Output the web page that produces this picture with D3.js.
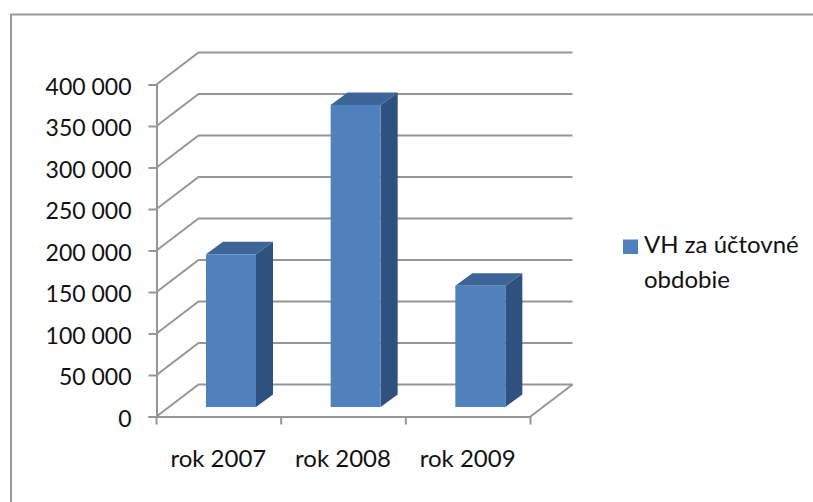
<!DOCTYPE html>
<html><head><meta charset="utf-8">
<script src="https://cdnjs.cloudflare.com/ajax/libs/d3/7.8.5/d3.min.js"></script>
<style>html,body{margin:0;padding:0;background:#fff}svg{display:block}text{font-family:Lato,sans-serif;fill:#111}</style>
</head><body><svg id="c" width="813" height="502"></svg>
<script>
const categories = ["rok 2007","rok 2008","rok 2009"];
const values = [184000,364000,146000];
const tickValues = [0,50000,100000,150000,200000,250000,300000,350000,400000];
const seriesName = ["VH za účtovné","obdobie"];

const svg = d3.select("#c");
const grid = "#969696";
const x = d3.scaleBand().domain(categories).range([156.5,530.5]);
const y = d3.scaleLinear().domain([0,400000]).range([416.5,84.5]);
const depth = {x:42, y:-32};

// chart frame (left and top edges only are visible)
svg.append("path").attr("d","M11,502V14.5H813").attr("fill","none").attr("stroke","#9a9a9a").attr("stroke-width",2);

// gridlines: side wall + back wall
const g = svg.append("g").attr("fill","none").attr("stroke",grid).attr("stroke-width",2);
g.selectAll("path.grid").data(tickValues).join("path").attr("class","grid")
 .attr("d",v=>`M${x.range()[0]},${y(v)}L${x.range()[0]+depth.x},${y(v)+depth.y}H${x.range()[1]+depth.x}`);
// floor edge
g.append("path").attr("d",`M${x.range()[1]},${y(0)}L${x.range()[1]+depth.x},${y(0)+depth.y}`);

// axes
const yAxis = d3.axisLeft(y).tickValues(tickValues).tickSize(8).tickPadding(17)
 .tickFormat(d=>d3.format(",")(d).replace(/,/g," "));
const xAxis = d3.axisBottom(x).tickSize(0).tickPadding(33);
const ya = svg.append("g").attr("transform",`translate(${x.range()[0]},0)`).call(yAxis);
const xa = svg.append("g").attr("transform",`translate(0,${y(0)})`).call(xAxis);
xa.selectAll("line.sep").data(d3.range(4)).join("line").attr("class","sep")
 .attr("x1",i=>x.range()[0]+i*x.bandwidth()).attr("x2",i=>x.range()[0]+i*x.bandwidth())
 .attr("y1",0).attr("y2",8);
[ya,xa].forEach(a=>{
  a.selectAll("path,line").attr("stroke",grid).attr("stroke-width",2);
  a.selectAll("text").attr("font-family","Lato").attr("fill","#111");
});
ya.selectAll("text").attr("font-size",23).attr("dy","0.42em");
xa.selectAll("text").attr("font-size",24);
xa.selectAll(".tick text").attr("dx",-0.5);

// bars
const barW = 50, barDx = 17, barDy = -12.5, barInset = 49.5, barLift = 9.5;
const bars = svg.append("g").selectAll("g").data(categories.map((c,i)=>({c,v:values[i]}))).join("g")
 .attr("transform",d=>`translate(${x(d.c)+barInset},${-barLift})`);
bars.append("path").attr("fill","#2f5180")
 .attr("d",d=>`M${barW},${y(0)}V${y(d.v)}l${barDx},${barDy}V${y(0)+barDy}Z`);
bars.append("path").attr("fill","#3c6496")
 .attr("d",d=>`M0,${y(d.v)}l${barDx},${barDy}h${barW}l${-barDx},${-barDy}Z`);
bars.append("rect").attr("fill","#4f81bd")
 .attr("x",0).attr("width",barW).attr("y",d=>y(d.v)).attr("height",d=>y(0)-y(d.v));

// legend
svg.append("rect").attr("x",623).attr("y",239.5).attr("width",15).attr("height",14.5).attr("fill","#4f81bd");
svg.append("g").selectAll("text").data(seriesName).join("text")
 .attr("x",644).attr("y",(d,i)=>253+i*34.5).attr("font-size",24).text(d=>d);
</script></body></html>
